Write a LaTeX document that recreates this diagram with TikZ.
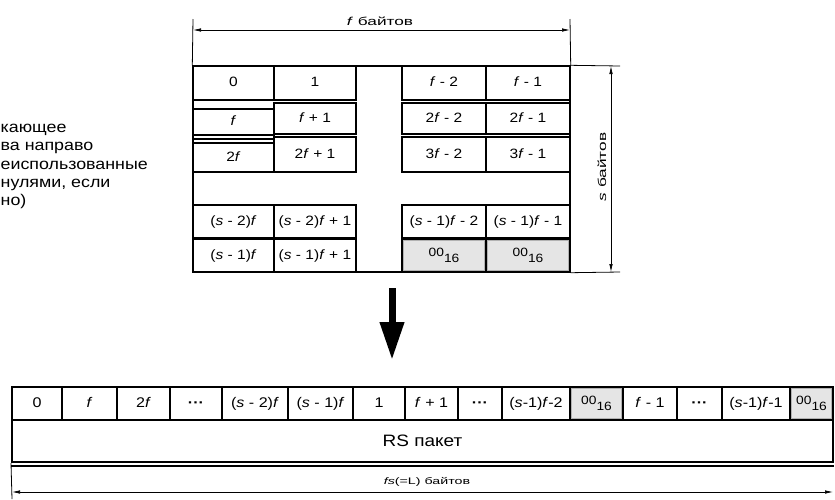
\documentclass[tikz,border=0pt]{standalone}
\usepackage{fontspec}
\setmainfont{Liberation Sans}[FakeStretch=1.15]
\newfontfamily\widefont{Liberation Sans}[FakeStretch=1.5]
\usetikzlibrary{arrows.meta}
\newcommand\cellfnt{\fontsize{13.5}{15}\selectfont}
\newcommand\botfnt{\fontsize{14}{16}\selectfont}
\newcommand\zerofnt{\fontsize{12}{13}\selectfont}
\newcommand\zz{{\zerofnt\raisebox{3pt}{00}\raisebox{-3pt}{16}}}
\newcommand\dd{\textbf{···}}
\newcommand\ff{\textit{f}}
\newcommand\sv{\textit{s}}
\begin{document}
\begin{tikzpicture}[x=1pt,y=-1pt,
  cellbox/.style={draw, line width=2pt, inner sep=0pt, text height=10pt, text depth=3pt, font=\cellfnt},
  botbox/.style={cellbox, font=\botfnt, minimum height=33pt},
  zerobox/.style={fill=gray!20},
  zeroinner/.style={draw=gray!60, line width=0.9pt},
  frameline/.style={line width=1.4pt},
  dimline/.style={line width=0.8pt},
  dimarrow/.style={line width=0.7pt, {Latex[length=8pt,width=3.5pt]}-{Latex[length=8pt,width=3.5pt]}},
  dimlabel/.style={inner sep=0pt, font=\widefont\fontsize{11.5}{12}\selectfont},
  smalllabel/.style={inner sep=0pt, font=\widefont\fontsize{9.5}{10}\selectfont},
  sidetext/.style={inner sep=0pt, anchor=base west, font=\fontsize{15.5}{17}\selectfont},
  bigarrow/.style={line width=7pt, -{Triangle[length=38pt,width=23pt]}}
]
\useasboundingbox (0,0) rectangle (835,499);

% side text
\node[sidetext] (t1) at (0.5,132) {кающее};
\node[sidetext] (t2) at (0.5,150) {ва направо};
\node[sidetext] (t3) at (0.5,169) {еиспользованные};
\node[sidetext] (t4) at (0.5,187) {нулями, если};
\node[sidetext] (t5) at (0.5,205) {но)};

% frame of the top table
\node[draw, frameline, minimum width=377pt, minimum height=206pt, inner sep=0pt] (frame) at (381.5,169) {};

% row 1
\node[cellbox, minimum width=81pt, minimum height=34pt] (a11) at (233.5,83) {0};
\node[cellbox, minimum width=82pt, minimum height=34pt] (a12) at (315,83) {1};
\node[cellbox, minimum width=84pt, minimum height=34pt] (a13) at (444,83) {\ff\ - 2};
\node[cellbox, minimum width=84pt, minimum height=34pt] (a14) at (528,83) {\ff\ - 1};
% row 2
\node[cellbox, minimum width=81pt, minimum height=26pt] (a21) at (233.5,122) {\ff};
\node[cellbox, minimum width=82pt, minimum height=31pt] (a22) at (315,118.5) {\ff\ + 1};
\node[cellbox, minimum width=84pt, minimum height=31pt] (a23) at (444,118.5) {2\ff\ - 2};
\node[cellbox, minimum width=84pt, minimum height=31pt] (a24) at (528,118.5) {2\ff\ - 1};
% row 3
\node[cellbox, minimum width=81pt, minimum height=29pt] (a31) at (233.5,157.5) {2\ff};
\node[cellbox, minimum width=82pt, minimum height=35pt] (a32) at (315,154.5) {2\ff\ + 1};
\node[cellbox, minimum width=84pt, minimum height=35pt] (a33) at (444,154.5) {3\ff\ - 2};
\node[cellbox, minimum width=84pt, minimum height=35pt] (a34) at (528,154.5) {3\ff\ - 1};
\draw[line width=1.8pt] ([yshift=-3pt]a21.south west) -- ([yshift=-3pt]a21.south east);
% row 4
\node[cellbox, minimum width=81pt, minimum height=33pt] (a41) at (233.5,221.5) {(\sv\ - 2)\ff};
\node[cellbox, minimum width=82pt, minimum height=33pt] (a42) at (315,221.5) {(\sv\ - 2)\ff\ + 1};
\node[cellbox, minimum width=84pt, minimum height=33pt] (a43) at (444,221.5) {(\sv\ - 1)\ff\ - 2};
\node[cellbox, minimum width=84pt, minimum height=33pt] (a44) at (528,221.5) {(\sv\ - 1)\ff\ - 1};
% row 5
\node[cellbox, minimum width=81pt, minimum height=33pt] (a51) at (233.5,255.5) {(\sv\ - 1)\ff};
\node[cellbox, minimum width=82pt, minimum height=33pt] (a52) at (315,255.5) {(\sv\ - 1)\ff\ + 1};
\node[cellbox, zerobox, minimum width=84pt, minimum height=33pt] (a53) at (444,255.5) {\zz};
\node[cellbox, zerobox, minimum width=84pt, minimum height=33pt] (a54) at (528,255.5) {\zz};

% dimension: f bytes
\coordinate (tlx) at (193,19);
\coordinate (trx) at (570,19);
\draw[dimline] (frame.north west) -- (tlx);
\draw[dimline] (frame.north east) -- (trx);
\coordinate (tl) at (193,30);
\coordinate (tr) at (570,30);
\draw[dimarrow] (tl) -- (tr);
\node[dimlabel, anchor=base] (flab) at (380,25) {\ff\ байтов};

% dimension: s bytes
\coordinate (rtx) at (620,66);
\coordinate (rbx) at (620,272);
\draw[dimline] (frame.north east) -- (rtx);
\draw[dimline] (frame.south east) -- (rbx);
\coordinate (rt) at (611,66);
\coordinate (rb) at (611,272);
\draw[dimarrow] (rt) -- (rb);
\node[dimlabel, rotate=90] (slab) at (602,167) {\sv\ байтов};

% big arrow
\coordinate (arrTop) at (392,288);
\coordinate (arrBot) at (392,360);
\draw[bigarrow] (arrTop) -- (arrBot);

% bottom strip
\node[botbox, minimum width=50pt] (b1) at (37,403.5) {0};
\node[botbox, minimum width=55pt] (b2) at (89.5,403.5) {\ff};
\node[botbox, minimum width=53pt] (b3) at (143.5,403.5) {2\ff};
\node[botbox, minimum width=52pt] (b4) at (196,403.5) {\dd};
\node[botbox, minimum width=66pt] (b5) at (255,403.5) {(\sv\ - 2)\ff};
\node[botbox, minimum width=65pt] (b6) at (320.5,403.5) {(\sv\ - 1)\ff};
\node[botbox, minimum width=52pt] (b7) at (379,403.5) {1};
\node[botbox, minimum width=53pt] (b8) at (431.5,403.5) {\ff\ + 1};
\node[botbox, minimum width=44pt] (b9) at (480,403.5) {\dd};
\node[botbox, minimum width=68pt] (b10) at (536,403.5) {(\sv-1)\ff-2};
\node[botbox, zerobox, minimum width=53pt] (b11) at (596.5,403.5) {\zz};
\node[botbox, minimum width=54pt] (b12) at (650,403.5) {\ff\ - 1};
\node[botbox, minimum width=45pt] (b13) at (699.5,403.5) {\dd};
\node[botbox, minimum width=68pt] (b14) at (756,403.5) {(\sv-1)\ff-1};
\node[botbox, zerobox, minimum width=43pt] (b15) at (811.5,403.5) {\zz};

\foreach \n in {a53,a54,b11,b15}
  \draw[zeroinner] ([xshift=2.5pt,yshift=-2.5pt]\n.north west) rectangle ([xshift=-2.5pt,yshift=2.5pt]\n.south east);

\node[draw, line width=2pt, minimum width=821pt, minimum height=42pt, inner sep=0pt,
      font=\fontsize{16.5}{18}\selectfont] (rs) at (422.5,441) {RS пакет};
\draw[line width=1.3pt] ([yshift=-3pt]rs.south west) -- ([yshift=-3pt]rs.south east);

% dimension: fs bytes
\coordinate (blx) at (12,499);
\draw[dimline] (rs.south west) -- (blx);
\coordinate (bl) at (12,492);
\coordinate (br) at (833,492);
\draw[dimarrow] (bl) -- (br);
\node[smalllabel] (lab) at (427,482) {\textit{fs}(=L) байтов};
\end{tikzpicture}
\end{document}
